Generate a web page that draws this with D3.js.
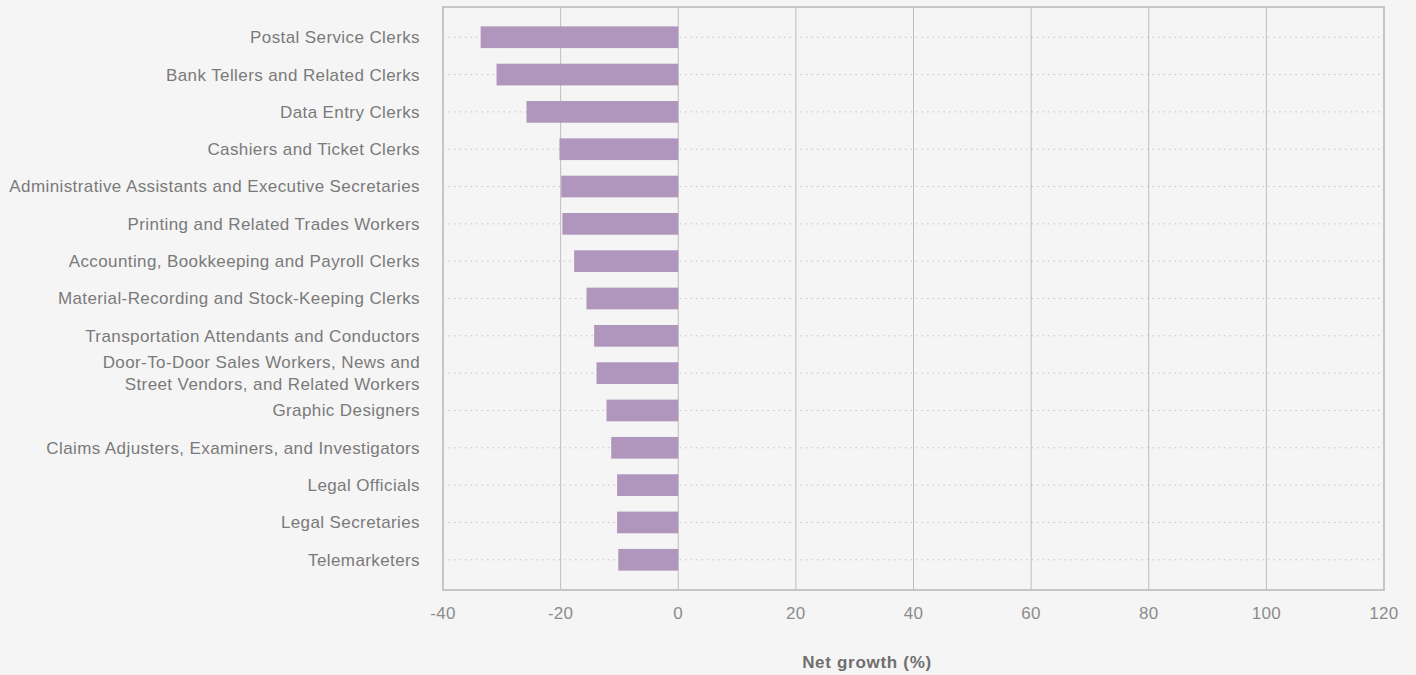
<!DOCTYPE html>
<html>
<head>
<meta charset="utf-8">
<script src="https://cdn.jsdelivr.net/npm/d3@7"></script>
<style>
  html, body { margin: 0; padding: 0; background: #f5f5f5; }
  svg { display: block; font-family: "Liberation Sans", Arial, Helvetica, sans-serif; }
</style>
</head>
<body>
<div id="chart"></div>
<script>
const occupations = [
  "Postal Service Clerks",
  "Bank Tellers and Related Clerks",
  "Data Entry Clerks",
  "Cashiers and Ticket Clerks",
  "Administrative Assistants and Executive Secretaries",
  "Printing and Related Trades Workers",
  "Accounting, Bookkeeping and Payroll Clerks",
  "Material-Recording and Stock-Keeping Clerks",
  "Transportation Attendants and Conductors",
  "Door-To-Door Sales Workers, News and|Street Vendors, and Related Workers",
  "Graphic Designers",
  "Claims Adjusters, Examiners, and Investigators",
  "Legal Officials",
  "Legal Secretaries",
  "Telemarketers"
];
const netGrowth = [-33.6, -30.9, -25.8, -20.2, -19.9, -19.7, -17.7, -15.6, -14.3, -13.9, -12.2, -11.4, -10.4, -10.4, -10.2];
const xTicks = [-40, -20, 0, 20, 40, 60, 80, 100, 120];
const xTitle = "Net growth (%)";

const W = 1416, H = 675;
const margin = {top: 7, right: 32, bottom: 85, left: 443};
const width = W - margin.left - margin.right;
const height = H - margin.top - margin.bottom;

const svg = d3.select("#chart").append("svg")
    .attr("width", W)
    .attr("height", H);

const g = svg.append("g")
    .attr("transform", "translate(" + margin.left + "," + margin.top + ")");

const x = d3.scaleLinear().domain([-40, 120]).range([0, width]);
const y = d3.scalePoint().domain(occupations).range([0, height]).padding(0.81);
const barH = 21.7;

// vertical grid
g.selectAll(".vgrid")
    .data(xTicks)
    .enter().append("line")
    .attr("x1", d => x(d)).attr("x2", d => x(d))
    .attr("y1", 0).attr("y2", height)
    .attr("stroke", "#bdbdbd")
    .attr("stroke-width", 1);

// horizontal dotted grid
g.selectAll(".hgrid")
    .data(occupations)
    .enter().append("line")
    .attr("x1", 0).attr("x2", width)
    .attr("y1", d => y(d)).attr("y2", d => y(d))
    .attr("stroke", "#c4c4c4")
    .attr("stroke-width", 1)
    .attr("stroke-dasharray", "1.5,4");

// bars
g.selectAll(".bar")
    .data(netGrowth)
    .enter().append("rect")
    .attr("x", d => x(Math.min(0, d)))
    .attr("width", d => Math.abs(x(d) - x(0)))
    .attr("y", (d, i) => y(occupations[i]) - barH / 2)
    .attr("height", barH)
    .attr("fill", "#b096bd");

// frame
g.append("rect")
    .attr("x", 0).attr("y", 0)
    .attr("width", width).attr("height", height)
    .attr("fill", "none")
    .attr("stroke", "#c6c6c6")
    .attr("stroke-width", 2);

// category labels
const labels = g.selectAll(".cat")
    .data(occupations)
    .enter().append("text")
    .attr("text-anchor", "end")
    .attr("fill", "#7a7a7a")
    .attr("font-size", 17)
    .attr("letter-spacing", 0.4);

labels.each(function(d) {
    const lines = d.split("|");
    const t = d3.select(this);
    const y0 = y(d) - (lines.length - 1) * 11;
    lines.forEach((ln, k) => {
        t.append("tspan")
            .attr("x", -23)
            .attr("y", y0 + k * 22)
            .attr("dy", "0.35em")
            .text(ln);
    });
});

// x tick labels
g.selectAll(".xt")
    .data(xTicks)
    .enter().append("text")
    .attr("x", d => x(d))
    .attr("y", height + 23)
    .attr("dy", "0.35em")
    .attr("text-anchor", "middle")
    .attr("fill", "#8c8c8c")
    .attr("font-size", 17)
    .attr("letter-spacing", 0.3)
    .text(d => d);

// axis title
svg.append("text")
    .attr("x", 867)
    .attr("y", 662)
    .attr("dy", "0.35em")
    .attr("text-anchor", "middle")
    .attr("fill", "#6f6f6f")
    .attr("font-size", 17)
    .attr("font-weight", "bold")
    .attr("letter-spacing", 0.7)
    .text(xTitle);
</script>
</body>
</html>
